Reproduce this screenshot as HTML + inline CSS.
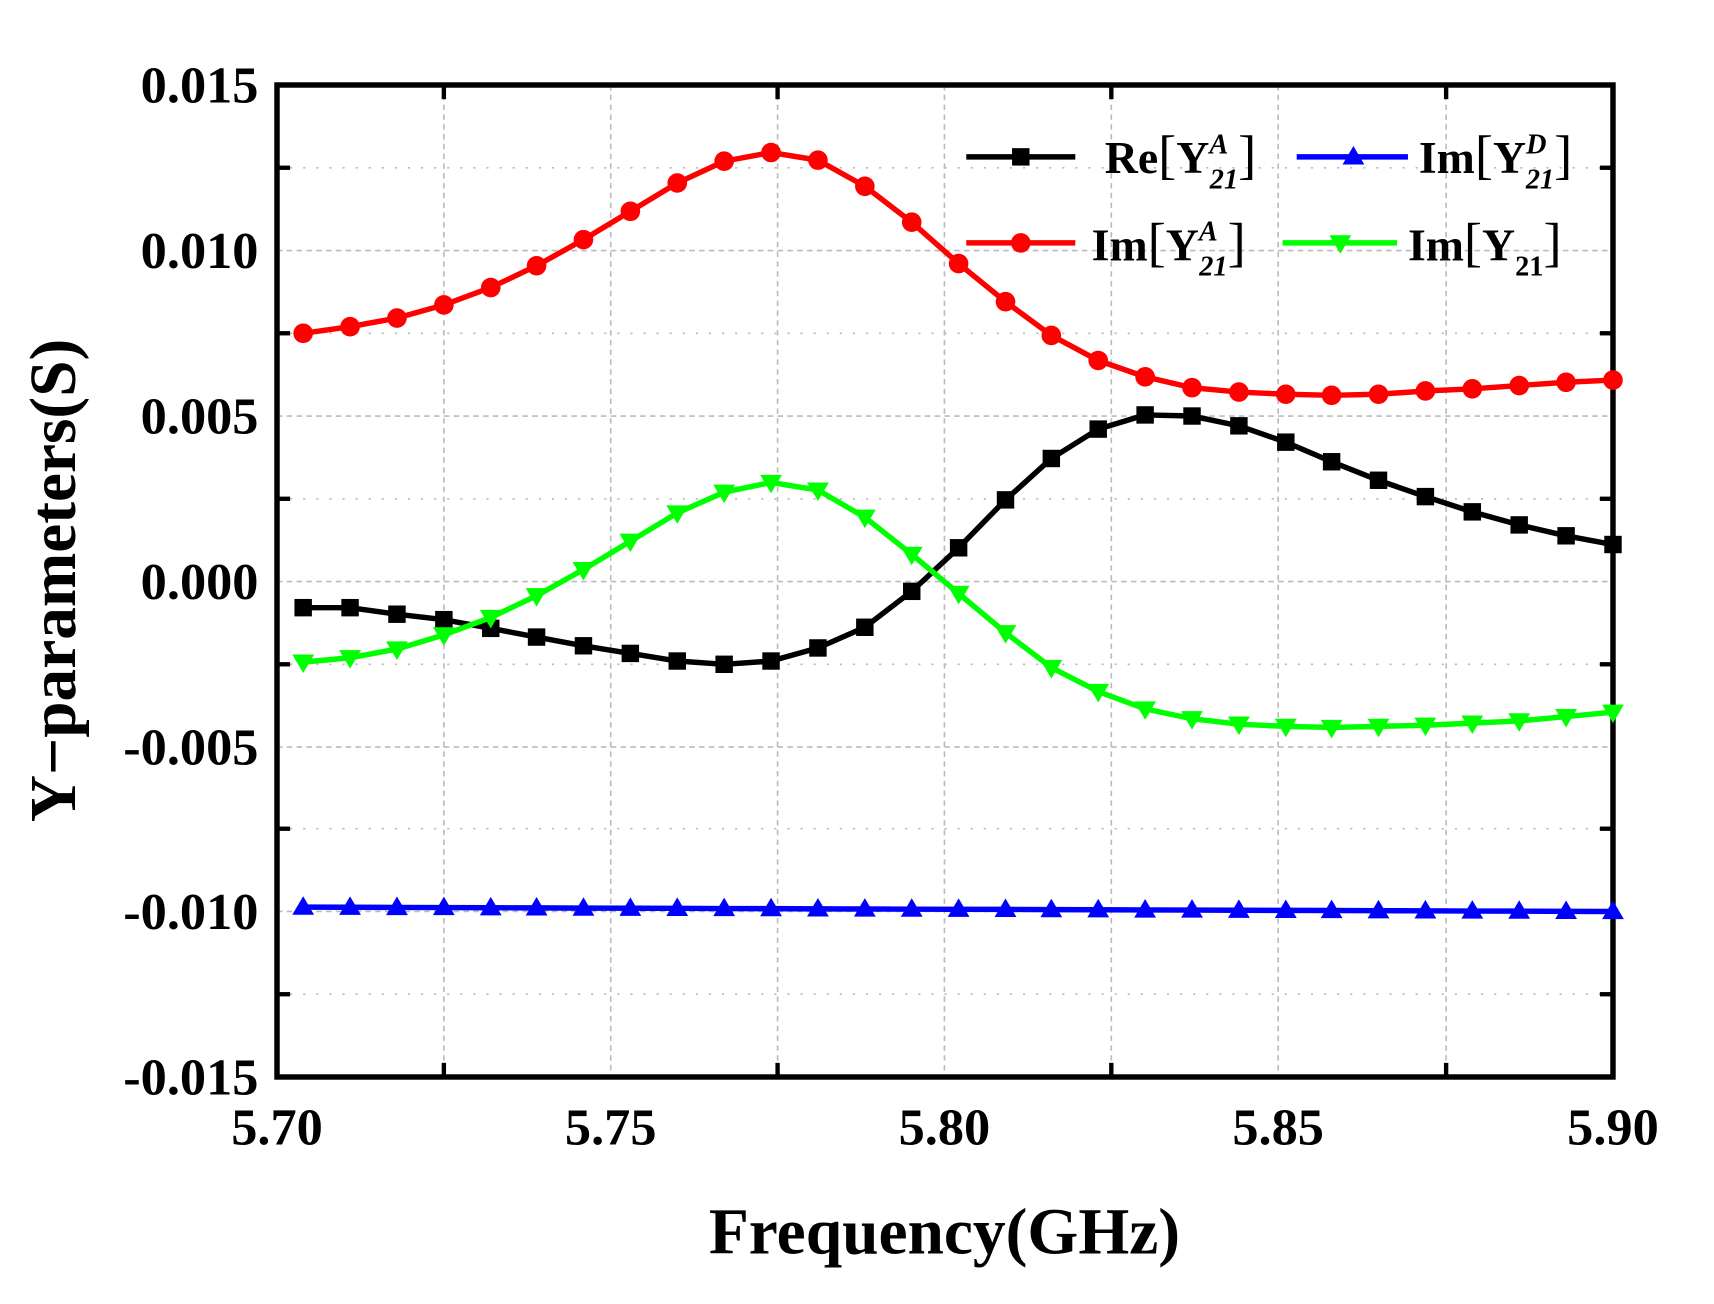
<!DOCTYPE html>
<html><head><meta charset="utf-8"><style>html,body{margin:0;padding:0;background:#fff}svg{display:block}</style></head>
<body>
<svg width="1714" height="1304" xmlns="http://www.w3.org/2000/svg" font-family="Liberation Serif, serif" font-weight="bold">
<defs>
<marker id="sq" markerUnits="userSpaceOnUse" markerWidth="20" markerHeight="20" refX="10" refY="10" viewBox="0 0 20 20"><rect x="2" y="2" width="16" height="16" fill="#000"/></marker>
<marker id="ci" markerUnits="userSpaceOnUse" markerWidth="20" markerHeight="20" refX="10" refY="10" viewBox="0 0 20 20"><circle cx="10" cy="10" r="9" fill="#f00"/></marker>
<marker id="td" markerUnits="userSpaceOnUse" markerWidth="22" markerHeight="22" refX="11" refY="11" viewBox="0 0 22 22"><polygon points="1,4 21,4 11,21" fill="#0f0"/></marker>
<marker id="tu" markerUnits="userSpaceOnUse" markerWidth="22" markerHeight="22" refX="11" refY="11" viewBox="0 0 22 22"><polygon points="11,1 21,18 1,18" fill="#00f"/></marker>
</defs>
<rect width="1714" height="1304" fill="#fff"/>
<g transform="translate(277 85) scale(1.0906 1.0889) translate(-253 -77)">
<g stroke="#bbb" stroke-width="1.5" stroke-dasharray="5,4">
<line x1="406" y1="77" x2="406" y2="988"/><line x1="559" y1="77" x2="559" y2="988"/><line x1="712" y1="77" x2="712" y2="988"/><line x1="865" y1="77" x2="865" y2="988"/><line x1="1018" y1="77" x2="1018" y2="988"/><line x1="1171" y1="77" x2="1171" y2="988"/><line x1="1325" y1="77" x2="1325" y2="988"/>
<line x1="253" y1="229" x2="1478" y2="229"/><line x1="253" y1="381" x2="1478" y2="381"/><line x1="253" y1="533" x2="1478" y2="533"/><line x1="253" y1="685" x2="1478" y2="685"/><line x1="253" y1="836" x2="1478" y2="836"/>
<line x1="253" y1="153" x2="1478" y2="153" stroke-dasharray="2,10"/><line x1="253" y1="305" x2="1478" y2="305" stroke-dasharray="2,10"/><line x1="253" y1="457" x2="1478" y2="457" stroke-dasharray="2,10"/><line x1="253" y1="609" x2="1478" y2="609" stroke-dasharray="2,10"/><line x1="253" y1="760" x2="1478" y2="760" stroke-dasharray="2,10"/><line x1="253" y1="912" x2="1478" y2="912" stroke-dasharray="2,10"/>
</g>
<g stroke="#000" stroke-width="4">
<line x1="406" y1="77" x2="406" y2="90"/><line x1="712" y1="77" x2="712" y2="90"/><line x1="1018" y1="77" x2="1018" y2="90"/><line x1="1325" y1="77" x2="1325" y2="90"/>
<line x1="406" y1="988" x2="406" y2="975"/><line x1="712" y1="988" x2="712" y2="975"/><line x1="1018" y1="988" x2="1018" y2="975"/><line x1="1325" y1="988" x2="1325" y2="975"/>
<line x1="253" y1="153" x2="265" y2="153"/><line x1="253" y1="305" x2="265" y2="305"/><line x1="253" y1="457" x2="265" y2="457"/><line x1="253" y1="609" x2="265" y2="609"/><line x1="253" y1="760" x2="265" y2="760"/><line x1="253" y1="912" x2="265" y2="912"/>
<line x1="1478" y1="153" x2="1466" y2="153"/><line x1="1478" y1="305" x2="1466" y2="305"/><line x1="1478" y1="457" x2="1466" y2="457"/><line x1="1478" y1="609" x2="1466" y2="609"/><line x1="1478" y1="760" x2="1466" y2="760"/><line x1="1478" y1="912" x2="1466" y2="912"/>
</g>
<rect x="253" y="77" width="1225" height="911" fill="none" stroke="#000" stroke-width="5"/>
<g fill="none" stroke-width="5">
<polyline stroke="#00f" marker-start="url(#tu)" marker-mid="url(#tu)" marker-end="url(#tu)" points="277,832 320,832.1 363,832.3 406,832.4 449,832.6 491,832.7 534,832.9 577,833 620,833.1 663,833.3 706,833.4 749,833.6 792,833.7 835,833.9 878,834 921,834.1 963,834.3 1006,834.4 1049,834.6 1092,834.7 1135,834.9 1178,835 1220,835.1 1263,835.3 1306,835.4 1349,835.6 1392,835.7 1435,835.9 1478,836"/>
<polyline stroke="#000" marker-start="url(#sq)" marker-mid="url(#sq)" marker-end="url(#sq)" points="277,557 320,557 363,563 406,568 449,576 491,584 534,592 577,599 620,606 663,609 706,606 749,594 792,575 835,542 878,502 921,458 963,420 1006,393 1049,380 1092,381 1135,390 1178,405 1220,423 1263,440 1306,455 1349,469 1392,481 1435,491 1478,499"/>
<polyline stroke="#0f0" marker-start="url(#td)" marker-mid="url(#td)" marker-end="url(#td)" points="277,607 320,603 363,595 406,582 449,566 491,546 534,522 577,496 620,470 663,451 706,442 749,449 792,474 835,508 878,544 921,580 963,612 1006,634 1049,650 1092,659 1135,664 1178,666 1220,667 1263,666 1306,665 1349,663 1392,661 1435,657 1478,653"/>
<polyline stroke="#f00" marker-start="url(#ci)" marker-mid="url(#ci)" marker-end="url(#ci)" points="277,305 320,299 363,291 406,279 449,263 491,243 534,219 577,193 620,167 663,147 706,139 749,146 792,170 835,203 878,241 921,276 963,307 1006,330 1049,345 1092,355 1135,359 1178,361 1220,362 1263,361 1306,358 1349,356 1392,353 1435,350 1478,348"/>
</g>
<g font-size="48" text-anchor="end">
<text x="236" y="93">0.015</text><text x="236" y="245">0.010</text><text x="236" y="397">0.005</text><text x="236" y="549">0.000</text><text x="236" y="701">-0.005</text><text x="236" y="852">-0.010</text><text x="236" y="1004">-0.015</text>
</g>
<g font-size="48" text-anchor="middle">
<text x="253" y="1050">5.70</text><text x="559" y="1050">5.75</text><text x="865" y="1050">5.80</text><text x="1171" y="1050">5.85</text><text x="1478" y="1050">5.90</text>
</g>
<text x="865" y="1150" font-size="60" text-anchor="middle">Frequency(GHz)</text>
<text transform="translate(68 532) rotate(-90)" font-size="60" text-anchor="middle">Y−parameters(S)</text>
<g font-size="42">
<line x1="885" y1="143" x2="985" y2="143" stroke="#000" stroke-width="5"/><rect x="927" y="135" width="16" height="16" fill="#000"/>
<text x="1012" y="158">Re<tspan font-weight="normal" font-size="50">[</tspan>Y<tspan font-style="italic" font-size="26" dy="-18">A</tspan><tspan font-style="italic" font-size="26" dx="-17" dy="32">21</tspan><tspan font-weight="normal" font-size="50" dy="-14">]</tspan></text>
<line x1="1188" y1="143" x2="1290" y2="143" stroke="#00f" stroke-width="5"/><polygon points="1240,133 1250,150 1230,150" fill="#00f"/>
<text x="1300" y="158">Im<tspan font-weight="normal" font-size="50">[</tspan>Y<tspan font-style="italic" font-size="26" dy="-18">D</tspan><tspan font-style="italic" font-size="26" dx="-19" dy="32">21</tspan><tspan font-weight="normal" font-size="50" dy="-14">]</tspan></text>
<line x1="885" y1="222" x2="985" y2="222" stroke="#f00" stroke-width="5"/><circle cx="935" cy="222" r="9" fill="#f00"/>
<text x="1000" y="238">Im<tspan font-weight="normal" font-size="50">[</tspan>Y<tspan font-style="italic" font-size="26" dy="-18">A</tspan><tspan font-style="italic" font-size="26" dx="-17" dy="32">21</tspan><tspan font-weight="normal" font-size="50" dy="-14">]</tspan></text>
<line x1="1175" y1="222" x2="1280" y2="222" stroke="#0f0" stroke-width="5"/><polygon points="1218,215 1238,215 1228,232" fill="#0f0"/>
<text x="1290" y="238">Im<tspan font-weight="normal" font-size="50">[</tspan>Y<tspan font-size="26" dy="14">21</tspan><tspan font-weight="normal" font-size="50" dy="-14">]</tspan></text>
</g>
</g>
</svg>
</body></html>
